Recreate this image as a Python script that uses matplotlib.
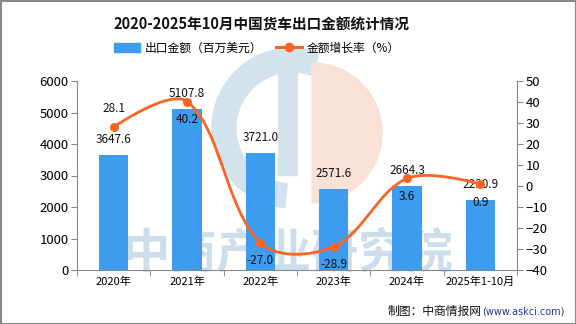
import numpy as np
import matplotlib
matplotlib.use("Agg")
import matplotlib.pyplot as plt
from matplotlib.patches import Rectangle, Patch, Wedge
from matplotlib.lines import Line2D

plt.rcParams['font.family'] = ['Noto Sans CJK SC', 'DejaVu Sans']

categories = ["2020年", "2021年", "2022年", "2023年", "2024年", "2025年1-10月"]
export_value = [3647.6, 5107.8, 3721.0, 2571.6, 2664.3, 2230.9]
growth_rate = [28.1, 40.2, -27.0, -28.9, 3.6, 0.9]
growth_label_below = [False, True, True, True, True, True]

BAR_C = "#3D9BF0"
LINE_C = "#FA6424"

fig = plt.figure(figsize=(5.76, 3.24), dpi=100)
ax = fig.add_axes([77/576, 1-270/324, 440/576, 189/324])
ax2 = ax.twinx()

x = np.arange(len(categories))

# background logo + watermark
wax = fig.add_axes([0, 0, 1, 1], zorder=-1)
wax.set_xlim(0, 576); wax.set_ylim(324, 0); wax.axis("off")
wax.add_patch(Wedge((292, 128), 80, 95, 290, width=24, color="#D3E3EE"))
wax.add_patch(Rectangle((278, 62), 19, 113, color="#D3E3EE"))
wax.add_patch(Wedge((312, 133), 70, -90, 90, color="#F9E1D6"))
wax.text(288, 253, "中商产业研究院", ha="center", va="center", fontsize=34,
         color="#CCDEEB", fontweight="bold")

ax.set_zorder(2); ax2.set_zorder(3)
ax.patch.set_visible(False)

ax.bar(x, export_value, width=0.4, color=BAR_C, zorder=2)
for xi, v in zip(x, export_value):
    ax.annotate(f"{v:.1f}", (xi, v), xytext=(0, 11), textcoords="offset points",
                ha="center", va="center", fontsize=8.5, color="#111111")

# smooth curve through the data points (drawing only)
def smooth_curve(px, py, sx=73.3, sy=2.1, smooth=0.35, n=40):
    P = np.column_stack([np.asarray(px, float)*sx, np.asarray(py, float)*sy])
    m = len(P)
    cin = P.copy(); cout = P.copy()
    for i in range(1, m-1):
        prev, cur, nxt = P[i-1], P[i], P[i+1]
        v = nxt - prev
        d0 = np.linalg.norm(cur - prev); d1 = np.linalg.norm(nxt - cur)
        r = d1/(d0+d1)
        cout[i] = cur + v*smooth*r
        cin[i] = cur - v*smooth*(1-r)
    segs = []
    t = np.linspace(0, 1, n)[:, None]
    for i in range(m-1):
        p0, p1, p2, p3 = P[i], cout[i], cin[i+1], P[i+1]
        segs.append((1-t)**3*p0 + 3*(1-t)**2*t*p1 + 3*(1-t)*t**2*p2 + t**3*p3)
    s = np.vstack(segs)
    return s[:, 0]/sx, s[:, 1]/sy

cx, cy = smooth_curve(x, growth_rate)
ax2.plot(cx, cy, color=LINE_C, lw=2.0, zorder=3)
ax2.plot(x, growth_rate, "o", color=LINE_C, ms=5.5, zorder=4)
for xi, v, below in zip(x, growth_rate, growth_label_below):
    off = -13 if below else 13
    ax2.annotate(f"{v:.1f}", (xi, v), xytext=(0, off), textcoords="offset points",
                 ha="center", va="center", fontsize=8.5, color="#111111")

ax.set_xlim(-0.5, len(categories)-0.5)
ax.set_ylim(0, 6000)
ax.set_yticks(np.arange(0, 6001, 1000))
ax2.set_ylim(-40, 50)
ax2.set_yticks(np.arange(-40, 51, 10))

ax.set_xticks(x)
ax.set_xticklabels(categories, fontsize=8)
ax.set_xticks(np.arange(-0.5, len(categories), 1), minor=True)
ax.tick_params(axis="x", which="major", length=0, pad=5)
ax.tick_params(axis="x", which="minor", length=4, color="#888888")
ax.tick_params(axis="y", labelsize=9.5, length=4, color="#888888", pad=2)
ax2.tick_params(axis="y", labelsize=9.5, length=4, color="#888888", pad=2)

for a in (ax, ax2):
    a.spines["top"].set_visible(False)
    for s in ("left", "right", "bottom"):
        a.spines[s].set_color("#888888")
ax.spines["right"].set_visible(False)
ax2.spines["left"].set_visible(False)
ax2.spines["bottom"].set_visible(False)

fig.text(261/576, 1-25/324, "2020-2025年10月中国货车出口金额统计情况", ha="center", va="center",
         fontsize=10.5, fontweight="bold", color="#111111")

handles = [Patch(color=BAR_C), Line2D([], [], color=LINE_C, lw=2.2, marker="o", ms=6)]
fig.legend(handles, ["出口金额（百万美元）", "金额增长率（%）"], loc="center",
           bbox_to_anchor=(257/576, 1-48/324), ncol=2, frameon=False, fontsize=8.5,
           handlelength=2.2, columnspacing=1.2, handletextpad=0.4)

fig.text(482/576, 1-311/324, "制图：中商情报网", ha="right", va="center", fontsize=8.5, color="#111111")
fig.text(482/576, 1-311/324, "(www.askci.com)", ha="left", va="center", fontsize=7, color="#1F3A93",
         family="DejaVu Sans")

border = Rectangle((0.5/576, 0.5/324), 1-1/576, 1-1/324, transform=fig.transFigure,
                   fill=False, edgecolor="#888888", lw=1.5)
fig.patches.append(border)

fig.savefig("out.png", dpi=100)
